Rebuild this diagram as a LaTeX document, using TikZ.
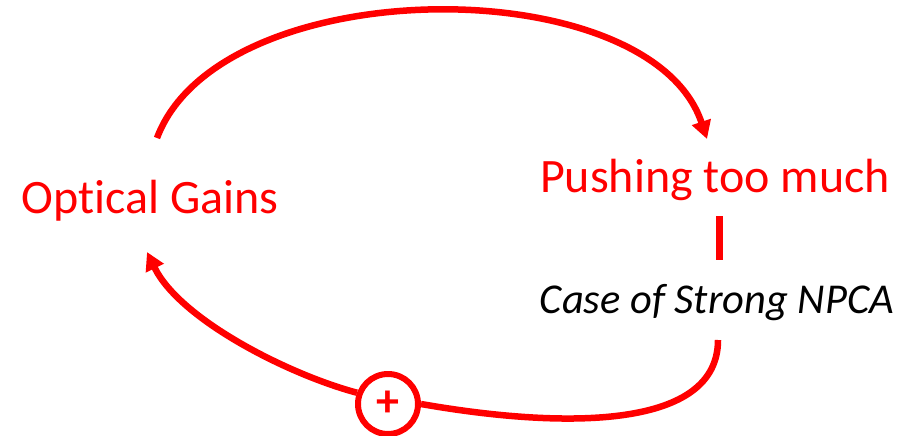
\documentclass[tikz,border=0pt]{standalone}
\usepackage{fontspec}
\setmainfont{Carlito}[Ligatures=NoCommon]
\usepackage{tikz}
\usetikzlibrary{arrows.meta}

\begin{document}
\begin{tikzpicture}[x=1pt,y=-1pt,
  loop/.style={red, line width=6.5pt, -{Triangle[length=18pt,width=19pt]}},
  lbl/.style={anchor=base, inner sep=0pt}]

\useasboundingbox (0,0) rectangle (902,436);

\node[lbl, red] (gains) at (150,213) {\fontsize{48}{56}\selectfont Optical Gains};
\node[lbl, red] (pushing) at (715,192) {\fontsize{48}{56}\selectfont Pushing too much};
\node[lbl] (npca) at (717,313) {\fontsize{42.5}{50}\selectfont\itshape Case of Strong NPCA};
\node[circle, draw=red, line width=6pt, minimum size=60pt, inner sep=0pt, red] (plus) at (388,404)
  {\fontsize{46}{50}\selectfont\bfseries +};

\coordinate (gtop) at (157,138);
\coordinate (ptip) at (707,139);
\coordinate (barA) at (719,216);
\coordinate (barB) at (719,260);
\coordinate (nbot) at (718,340);
\coordinate (gtip) at (147,252);

\draw[loop] (gtop) .. controls (220,-30) and (650,-32) .. (ptip);
\draw[red, line width=7pt] (barA) -- (barB);
\draw[red, line width=6.5pt] (nbot) .. controls (718,428) and (570,430) .. (plus.east);
\draw[loop] (plus.160) .. controls (290,375) and (180,320) .. (gtip);
\end{tikzpicture}
\end{document}
